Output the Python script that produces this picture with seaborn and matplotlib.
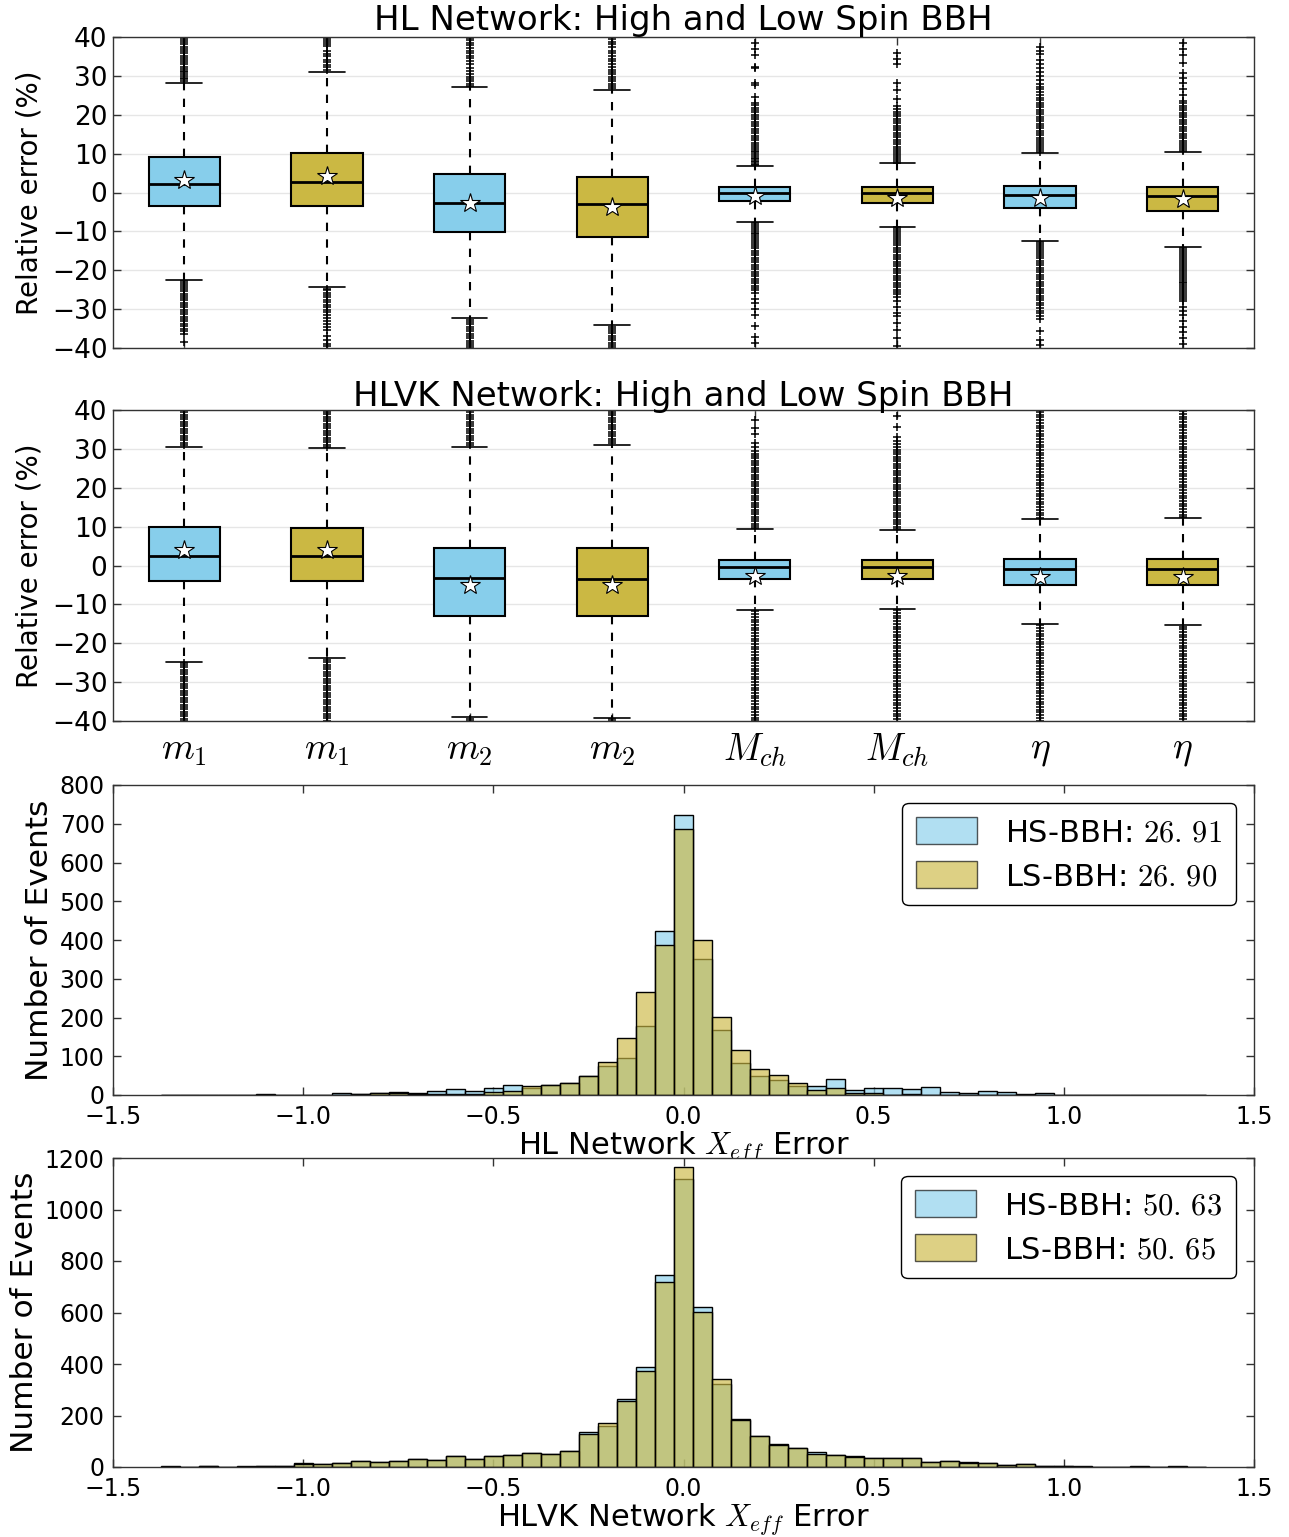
import numpy as np
import pandas as pd
import matplotlib
matplotlib.use("Agg")
import matplotlib.pyplot as plt
from matplotlib.patches import Patch
import seaborn as sns

sns.set_theme(style="white")
plt.rcParams['font.family'] = ['DejaVu Sans']
plt.rcParams['mathtext.fontset'] = 'cm'
for k in ['text.color', 'axes.labelcolor', 'xtick.color', 'ytick.color']:
    plt.rcParams[k] = 'black'

# ---------------- data ----------------
param_labels = [r'$m_1$', r'$m_1$', r'$m_2$', r'$m_2$', r'$M_{ch}$', r'$M_{ch}$', r'$\eta$', r'$\eta$']
box_titles = ['HL Network: High and Low Spin BBH', 'HLVK Network: High and Low Spin BBH']

# HL network box statistics (relative error %)
hl_q1 = [-3.5, -3.5, -10.1, -11.4, -2.2, -2.7, -4.1, -4.8]
hl_med = [2.3, 2.8, -2.6, -2.9, -0.2, -0.2, -0.7, -0.9]
hl_q3 = [9.1, 10.2, 4.7, 3.9, 1.5, 1.5, 1.7, 1.5]
hl_whislo = [-22.4, -24.3, -32.4, -34.1, -7.5, -8.8, -12.5, -14.1]
hl_whishi = [28.2, 31.1, 27.1, 26.4, 6.7, 7.5, 10.1, 10.5]
hl_mean = [3.2, 4.2, -2.7, -3.7, -0.9, -1.5, -1.3, -1.8]
hl_fliers_hi = [
    [28.6, 29.1, 29.5, 30.0, 30.4, 30.9, 31.3, 31.8, 32.4, 33.0, 33.6, 34.1, 34.7, 35.2, 35.8, 36.3, 36.9, 37.5, 38.1, 38.7, 39.2, 39.7],
    [31.5, 32.2, 32.8, 33.5, 34.1, 35.0, 35.6, 36.5, 37.8, 38.3, 38.8, 39.3, 39.8],
    [27.5, 28.0, 28.6, 29.2, 29.8, 30.5, 31.2, 32.0, 33.0, 33.8, 34.5, 35.2, 35.8, 36.5, 37.2, 37.9, 38.5, 39.2, 39.8],
    [26.8, 27.4, 28.0, 28.6, 29.2, 29.8, 30.4, 31.0, 31.6, 32.3, 33.0, 33.7, 34.4, 35.1, 35.8, 36.5, 37.3, 38.1, 38.8, 39.5],
    [7.0, 7.4, 7.8, 8.2, 8.6, 9.0, 9.4, 9.8, 10.3, 10.8, 11.3, 11.8, 12.3, 12.8, 13.4, 14.0, 14.6, 15.2, 15.8, 16.4, 17.0, 17.6, 18.2, 18.8, 19.4, 20.0, 20.6, 21.2, 21.8, 22.4, 23.0, 24.5, 27.6, 28.2, 32.0, 32.4, 35.3, 36.8, 38.4],
    [7.7, 8.2, 8.7, 9.2, 9.7, 10.2, 10.7, 11.2, 11.8, 12.4, 13.0, 13.6, 14.2, 14.8, 15.4, 16.0, 16.6, 17.2, 17.8, 18.4, 19.0, 19.6, 20.2, 20.8, 21.5, 22.2, 24.0, 26.3, 28.2, 33.0, 34.4, 36.0],
    [10.4, 10.9, 11.4, 11.9, 12.4, 12.9, 13.5, 14.1, 14.7, 15.3, 15.9, 16.5, 17.1, 17.7, 18.3, 18.9, 19.5, 20.1, 20.7, 21.3, 21.9, 22.5, 23.1, 23.7, 24.4, 25.1, 25.8, 26.5, 27.2, 28.0, 29.0, 30.0, 31.0, 32.0, 33.0, 34.2, 35.5, 36.5, 37.3],
    [10.8, 11.3, 11.8, 12.3, 12.8, 13.3, 13.9, 14.5, 15.1, 15.7, 16.3, 16.9, 17.5, 18.1, 18.7, 19.3, 19.9, 20.5, 21.1, 21.7, 22.3, 22.9, 23.5, 25.0, 26.5, 28.2, 29.5, 30.8, 33.4, 35.3, 36.8, 38.5],
]
hl_fliers_lo = [
    [-22.8, -23.3, -23.8, -24.3, -24.9, -25.4, -26.0, -26.5, -27.1, -27.7, -28.3, -28.9, -29.5, -30.1, -30.7, -31.3, -31.9, -32.5, -33.1, -33.7, -34.3, -35.0, -35.6, -36.3, -38.5],
    [-24.7, -25.2, -25.8, -26.4, -27.0, -27.6, -28.2, -28.9, -29.5, -30.2, -30.8, -31.5, -32.2, -33.0, -33.8, -34.5, -35.3, -36.8, -37.9, -38.9, -39.6],
    [-32.8, -33.3, -33.9, -34.5, -35.1, -35.7, -36.3, -36.9, -37.5, -38.1, -38.7, -39.3, -39.8],
    [-34.5, -35.0, -35.6, -36.2, -36.8, -37.4, -38.0, -38.6, -39.2, -39.8],
    [-7.8, -8.3, -8.8, -9.3, -9.8, -10.3, -10.8, -11.3, -11.8, -12.3, -12.8, -13.3, -13.8, -14.4, -15.0, -15.6, -16.2, -16.8, -17.4, -18.0, -18.6, -19.2, -19.8, -20.4, -21.0, -21.6, -22.2, -22.8, -23.4, -24.0, -24.6, -25.2, -25.8, -27.4, -28.4, -30.0, -31.4, -34.4, -37.2, -38.7],
    [-9.0, -9.5, -10.0, -10.5, -11.0, -11.5, -12.0, -12.5, -13.0, -13.6, -14.2, -14.8, -15.4, -16.0, -16.6, -17.2, -17.8, -18.4, -19.0, -19.6, -20.2, -20.8, -21.4, -22.0, -22.6, -23.2, -23.8, -24.4, -25.0, -25.6, -26.2, -26.8, -28.0, -29.5, -31.0, -31.8, -33.5, -35.3, -37.5, -39.6],
    [-12.8, -13.3, -13.8, -14.3, -14.8, -15.3, -15.8, -16.3, -16.9, -17.5, -18.1, -18.7, -19.3, -19.9, -20.5, -21.1, -21.7, -22.3, -22.9, -23.5, -24.1, -24.7, -25.3, -25.9, -26.5, -27.1, -27.7, -28.3, -29.0, -29.7, -30.4, -31.1, -31.8, -32.5, -35.7, -37.9, -39.1],
    [-14.4, -14.9, -15.4, -15.9, -16.4, -16.9, -17.4, -17.9, -18.4, -18.9, -19.4, -19.9, -20.4, -20.9, -21.4, -21.9, -22.4, -22.9, -23.4, -23.9, -24.4, -24.9, -25.4, -25.9, -26.4, -26.9, -27.4, -27.9, -29.5, -30.5, -31.5, -33.0, -34.5, -36.0, -37.5, -39.0],
]

# HLVK network box statistics
hlvk_q1 = [-4.0, -3.9, -12.9, -12.9, -3.6, -3.5, -5.0, -5.1]
hlvk_med = [2.4, 2.5, -3.3, -3.5, -0.4, -0.4, -0.9, -0.9]
hlvk_q3 = [9.8, 9.7, 4.5, 4.6, 1.5, 1.5, 1.8, 1.7]
hlvk_whislo = [-24.7, -23.9, -39.0, -39.2, -11.4, -11.1, -15.1, -15.4]
hlvk_whishi = [30.6, 30.1, 30.6, 31.0, 9.3, 9.1, 11.9, 12.1]
hlvk_mean = [4.0, 4.0, -5.1, -5.0, -2.6, -2.6, -2.9, -2.9]
hlvk_fliers_hi = [
    [31.0, 31.6, 32.2, 32.8, 33.4, 34.0, 34.6, 35.2, 35.8, 36.4, 37.0, 37.6, 38.2, 38.8, 39.4, 40.0],
    [30.5, 31.1, 31.7, 32.3, 32.9, 33.5, 34.1, 34.7, 35.3, 35.9, 36.5, 37.1, 37.7, 38.3, 38.9, 39.5, 40.0],
    [31.0, 31.6, 32.2, 32.8, 33.4, 34.0, 34.6, 35.2, 35.8, 36.4, 37.0, 37.6, 38.2, 38.8, 39.4, 40.0],
    [31.4, 32.0, 32.6, 33.2, 33.8, 34.4, 35.0, 35.6, 36.2, 36.8, 37.4, 38.0, 38.6, 39.2, 39.8],
    [9.6, 10.2, 10.8, 11.4, 12.0, 12.6, 13.2, 13.8, 14.4, 15.0, 15.6, 16.2, 16.8, 17.4, 18.0, 18.6, 19.2, 19.8, 20.4, 21.0, 21.6, 22.2, 22.8, 23.4, 24.0, 24.6, 25.2, 25.8, 26.4, 27.0, 27.6, 28.2, 28.8, 29.5, 30.5, 31.6, 33.8, 35.3, 37.4],
    [9.4, 10.0, 10.6, 11.2, 11.8, 12.4, 13.0, 13.6, 14.2, 14.8, 15.4, 16.0, 16.6, 17.2, 17.8, 18.4, 19.0, 19.6, 20.2, 20.8, 21.4, 22.0, 22.6, 23.2, 23.8, 24.4, 25.0, 25.6, 26.2, 26.8, 27.4, 28.0, 28.6, 29.2, 29.8, 30.5, 31.2, 32.0, 33.0, 35.5, 38.5],
    [12.2, 12.9, 13.6, 14.3, 15.0, 15.7, 16.4, 17.1, 17.8, 18.5, 19.2, 19.9, 20.6, 21.3, 22.0, 22.7, 23.4, 24.1, 24.8, 25.5, 26.2, 26.9, 27.6, 28.3, 29.0, 29.7, 30.4, 31.1, 31.8, 32.5, 33.2, 33.9, 34.6, 35.3, 36.0, 36.7, 37.4, 38.1, 38.8, 39.5],
    [12.4, 13.1, 13.8, 14.5, 15.2, 15.9, 16.6, 17.3, 18.0, 18.7, 19.4, 20.1, 20.8, 21.5, 22.2, 22.9, 23.6, 24.3, 25.0, 25.7, 26.4, 27.1, 27.8, 28.5, 29.2, 29.9, 30.6, 31.3, 32.0, 32.7, 33.4, 34.1, 34.8, 35.5, 36.2, 36.9, 37.6, 38.3, 39.0, 39.7],
]
hlvk_fliers_lo = [
    [-25.0, -25.6, -26.2, -26.8, -27.4, -28.0, -28.6, -29.2, -29.8, -30.4, -31.0, -31.6, -32.2, -32.8, -33.4, -34.0, -34.6, -35.2, -35.8, -36.4, -37.0, -37.6, -38.2, -38.8, -39.4, -40.0],
    [-24.3, -24.9, -25.5, -26.1, -26.7, -27.3, -27.9, -28.5, -29.1, -29.7, -30.3, -30.9, -31.5, -32.1, -32.7, -33.3, -33.9, -34.5, -35.1, -35.7, -36.3, -36.9, -37.5, -38.1, -38.7, -39.3, -39.9],
    [-39.4, -39.9],
    [-39.5, -39.9],
    [-11.8, -12.5, -13.2, -13.9, -14.6, -15.3, -16.0, -16.7, -17.4, -18.1, -18.8, -19.5, -20.2, -20.9, -21.6, -22.3, -23.0, -23.7, -24.4, -25.1, -25.8, -26.5, -27.2, -27.9, -28.6, -29.3, -30.0, -30.7, -31.4, -32.1, -32.8, -33.5, -34.2, -34.9, -35.6, -36.3, -37.0, -37.7, -38.4, -39.1, -39.8],
    [-11.5, -12.2, -12.9, -13.6, -14.3, -15.0, -15.7, -16.4, -17.1, -17.8, -18.5, -19.2, -19.9, -20.6, -21.3, -22.0, -22.7, -23.4, -24.1, -24.8, -25.5, -26.2, -26.9, -27.6, -28.3, -29.0, -29.7, -30.4, -31.1, -31.8, -32.5, -33.2, -33.9, -34.6, -35.3, -36.0, -36.7, -37.4, -38.1, -38.8, -39.5],
    [-15.4, -16.1, -16.8, -17.5, -18.2, -18.9, -19.6, -20.3, -21.0, -21.7, -22.4, -23.1, -23.8, -24.5, -25.2, -25.9, -26.6, -27.3, -28.0, -28.7, -29.4, -30.1, -30.8, -31.5, -32.2, -32.9, -33.6, -34.3, -35.0, -35.7, -36.4, -37.1, -37.8, -38.5, -39.2, -39.9],
    [-15.7, -16.4, -17.1, -17.8, -18.5, -19.2, -19.9, -20.6, -21.3, -22.0, -22.7, -23.4, -24.1, -24.8, -25.5, -26.2, -26.9, -27.6, -28.3, -29.0, -29.7, -30.4, -31.1, -31.8, -32.5, -33.2, -33.9, -34.6, -35.3, -36.0, -36.7, -37.4, -38.1, -38.8, -39.5],
]

# Histogram data: bin centres (width 0.05) and counts
bin_centers = [-1.35, -1.30, -1.25, -1.20, -1.15, -1.10, -1.05, -1.00, -0.95, -0.90,
               -0.85, -0.80, -0.75, -0.70, -0.65, -0.60, -0.55, -0.50, -0.45, -0.40,
               -0.35, -0.30, -0.25, -0.20, -0.15, -0.10, -0.05, 0.00, 0.05, 0.10,
               0.15, 0.20, 0.25, 0.30, 0.35, 0.40, 0.45, 0.50, 0.55, 0.60,
               0.65, 0.70, 0.75, 0.80, 0.85, 0.90, 0.95, 1.00, 1.05, 1.10,
               1.15, 1.20, 1.25, 1.30, 1.35]
hl_hs_counts = [1, 0, 1, 1, 0, 2, 1, 1, 1, 5,
                3, 5, 7, 6, 10, 15, 10, 18, 25, 17,
                26, 31, 49, 76, 95, 178, 422, 722, 352, 169,
                83, 50, 40, 24, 23, 41, 13, 18, 18, 15,
                21, 9, 5, 10, 8, 3, 4, 1, 1, 1,
                1, 1, 0, 1, 0]
hl_ls_counts = [1, 0, 1, 0, 1, 1, 0, 1, 0, 1,
                3, 5, 5, 3, 3, 3, 3, 8, 11, 24,
                26, 31, 49, 84, 147, 265, 388, 686, 401, 201,
                116, 67, 52, 31, 12, 18, 6, 6, 1, 2,
                1, 1, 1, 0, 1, 0, 1, 0, 1, 0,
                0, 1, 0, 0, 0]
hlvk_hs_counts = [2, 0, 3, 1, 2, 3, 2, 14, 12, 15,
                  24, 19, 25, 32, 28, 43, 32, 43, 47, 55,
                  50, 64, 137, 158, 264, 389, 744, 1120, 621, 321,
                  185, 122, 88, 73, 57, 46, 41, 36, 35, 36,
                  19, 23, 18, 17, 8, 12, 5, 3, 2, 1,
                  1, 2, 1, 2, 1]
hlvk_ls_counts = [1, 0, 2, 1, 1, 2, 2, 10, 11, 14,
                  23, 18, 24, 31, 27, 42, 31, 42, 46, 54,
                  49, 63, 128, 169, 258, 374, 717, 1165, 601, 340,
                  184, 121, 87, 72, 50, 45, 40, 34, 34, 35,
                  18, 22, 17, 16, 7, 11, 4, 2, 1, 1,
                  0, 1, 1, 1, 1]
hl_legend = [r'HS-BBH: $26.\,91$', r'LS-BBH: $26.\,90$']
hlvk_legend = [r'HS-BBH: $50.\,63$', r'LS-BBH: $50.\,65$']
hist_xlabels = [r'HL Network $X_{eff}$ Error', r'HLVK Network $X_{eff}$ Error']

# ---------------- style ----------------
HS_BOX = '#87CEEB'
LS_BOX = '#CBB843'
box_colors = [HS_BOX, LS_BOX] * 4
HIST_ALPHA = 0.65

fig = plt.figure(figsize=(12.89, 15.37), dpi=100)
L, W = 113 / 1289, 1141 / 1289
ax1 = fig.add_axes([L, 1 - 348 / 1537, W, 311 / 1537])
ax2 = fig.add_axes([L, 1 - 721 / 1537, W, 311 / 1537])
ax3 = fig.add_axes([L, 1 - 1095 / 1537, W, 310 / 1537])
ax4 = fig.add_axes([L, 1 - 1467 / 1537, W, 309 / 1537])


def style_axes(ax, labelsize):
    ax.tick_params(direction='in', top=True, right=True, length=6, width=1,
                   color='#333333', labelsize=labelsize, pad=4,
                   bottom=True, left=True)
    for s in ax.spines.values():
        s.set_color('#333333')
        s.set_linewidth(1.0)


def draw_boxes(ax, q1, med, q3, wlo, whi, mean, fhi, flo, title, show_labels):
    stats = []
    for i in range(8):
        stats.append(dict(q1=q1[i], med=med[i], q3=q3[i], whislo=wlo[i], whishi=whi[i],
                          mean=mean[i], fliers=np.array(fhi[i] + flo[i])))
    bp = ax.bxp(stats, positions=list(range(1, 9)), widths=0.5, showmeans=True,
                patch_artist=True,
                boxprops=dict(edgecolor='black', linewidth=1.5),
                whiskerprops=dict(color='black', linestyle=(0, (4, 4)), linewidth=1.5),
                capprops=dict(color='black', linewidth=1.2),
                medianprops=dict(color='black', linewidth=2),
                meanprops=dict(marker='*', markerfacecolor='white', markeredgecolor='black',
                               markersize=15, markeredgewidth=0.8),
                flierprops=dict(marker='+', markeredgecolor='black', markersize=5.5,
                                markeredgewidth=1.1, linestyle='none'))
    for patch, c in zip(bp['boxes'], box_colors):
        patch.set_facecolor(c)
    ax.set_xlim(0.5, 8.5)
    ax.set_ylim(-40, 40)
    ax.set_yticks([-40, -30, -20, -10, 0, 10, 20, 30, 40])
    ax.yaxis.grid(True, color='#e6e6e6', linewidth=1)
    ax.xaxis.grid(False)
    ax.set_axisbelow(True)
    style_axes(ax, 19)
    ax.set_xticks(list(range(1, 9)))
    if show_labels:
        ax.set_xticklabels(param_labels, fontsize=27)
        ax.tick_params(axis='x', pad=8)
    else:
        ax.set_xticklabels([])
    ax.set_ylabel('Relative error (%)', fontsize=20, labelpad=6)
    ax.set_title(title, fontsize=24.5, pad=3)


draw_boxes(ax1, hl_q1, hl_med, hl_q3, hl_whislo, hl_whishi, hl_mean,
           hl_fliers_hi, hl_fliers_lo, box_titles[0], False)
draw_boxes(ax2, hlvk_q1, hlvk_med, hlvk_q3, hlvk_whislo, hlvk_whishi, hlvk_mean,
           hlvk_fliers_hi, hlvk_fliers_lo, box_titles[1], True)

bin_edges = list(np.linspace(-1.375, 1.375, 56))


def draw_hist(ax, hs, ls, legend_labels, xlabel, ymax, ystep):
    df_hs = pd.DataFrame({'x': bin_centers, 'w': hs})
    df_ls = pd.DataFrame({'x': bin_centers, 'w': ls})
    sns.histplot(data=df_hs, x='x', weights='w', bins=bin_edges, color=HS_BOX, alpha=HIST_ALPHA,
                 edgecolor='black', linewidth=1, ax=ax)
    sns.histplot(data=df_ls, x='x', weights='w', bins=bin_edges, color=LS_BOX, alpha=HIST_ALPHA,
                 edgecolor='black', linewidth=1, ax=ax)
    ax.set_xlim(-1.5, 1.5)
    ax.set_ylim(0, ymax)
    ax.set_xticks([-1.5, -1.0, -0.5, 0.0, 0.5, 1.0, 1.5])
    ax.set_xticklabels(['\u22121.5', '\u22121.0', '\u22120.5', '0.0', '0.5', '1.0', '1.5'])
    ax.set_yticks(np.arange(0, ymax + 1, ystep))
    style_axes(ax, 17)
    ax.tick_params(axis='y', pad=6)
    ax.tick_params(axis='x', pad=7)
    ax.grid(False)
    ax.set_ylabel('Number of Events', fontsize=22.5, labelpad=4)
    ax.set_xlabel(xlabel, fontsize=22, labelpad=0)
    handles = [Patch(facecolor=HS_BOX, edgecolor='black', alpha=HIST_ALPHA),
               Patch(facecolor=LS_BOX, edgecolor='black', alpha=HIST_ALPHA)]
    leg = ax.legend(handles, legend_labels, loc='upper right', fontsize=22,
                    frameon=True, fancybox=True, framealpha=1, edgecolor='black',
                    handlelength=2.0, handleheight=1.0, borderpad=0.45,
                    labelspacing=0.45, handletextpad=0.9, borderaxespad=0.6)
    leg.get_frame().set_linewidth(1.0)


draw_hist(ax3, hl_hs_counts, hl_ls_counts, hl_legend, hist_xlabels[0], 800, 100)
draw_hist(ax4, hlvk_hs_counts, hlvk_ls_counts, hlvk_legend, hist_xlabels[1], 1200, 200)

fig.savefig('out.png', dpi=100)
